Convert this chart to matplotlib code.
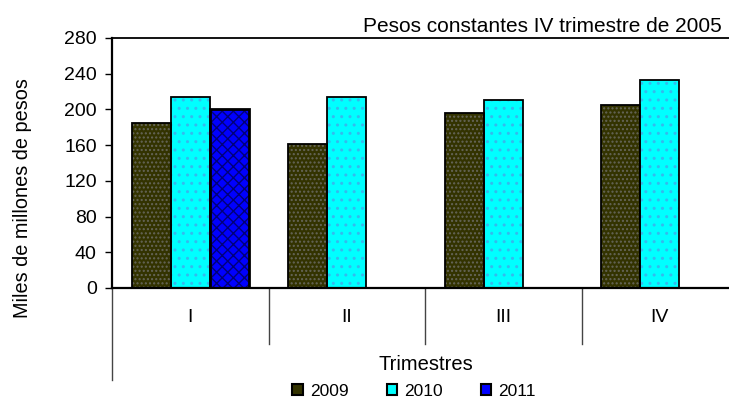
import matplotlib
matplotlib.use("Agg")
import matplotlib.pyplot as plt
from matplotlib.lines import Line2D
from matplotlib.patches import Patch

plt.rcParams['font.family'] = ['Liberation Sans', 'DejaVu Sans']

quarters = ["I", "II", "III", "IV"]
years = ["2009", "2010", "2011"]
values_2009 = [185, 161, 196, 205]
values_2010 = [214, 214, 211, 233]
values_2011 = [201]
series = [values_2009, values_2010, values_2011]

face_colors = ["#333300", "#00ffff", "#0000ff"]
hatch_colors = ["#66665a", "#33bbee", "#00007a"]
hatches = ["....", "..", "xxx"]
yticks = [0, 40, 80, 120, 160, 200, 240, 280]

W, H = 729, 400
fig = plt.figure(figsize=(W / 100, H / 100), dpi=100)
ax_left, ax_right, ax_top, ax_bottom = 112, 738, 38, 288
ax = fig.add_axes([ax_left / W, 1 - ax_bottom / H,
                   (ax_right - ax_left) / W, (ax_bottom - ax_top) / H])

bar_w = 0.25
offsets = [-0.25, 0.0, 0.25]
plt.rcParams['hatch.linewidth'] = 1.0
for k, vals in enumerate(series):
    xs = [i + 0.5 + offsets[k] for i in range(len(vals))]
    ax.bar(xs, vals, width=bar_w, color=face_colors[k], hatch=hatches[k],
           edgecolor=hatch_colors[k], linewidth=0, zorder=2)
    ax.bar(xs, vals, width=bar_w, facecolor="none", edgecolor="black",
           linewidth=2.0 if k == 2 else 1.3, zorder=3)

ax.set_xlim(0, 4)
ax.set_ylim(0, 280)
ax.set_yticks(yticks)
ax.set_yticklabels([str(v) for v in yticks], fontsize=14)
ax.tick_params(axis='y', direction='out', length=5, width=1, pad=6)
ax.set_xticks([])
ax.spines['right'].set_visible(False)
for s in ['left', 'bottom']:
    ax.spines[s].set_linewidth(1.6)
ax.spines['top'].set_linewidth(1.3)

# category separators below the axis
sep_depth = (344 - 288) / 250
for i in range(1, 4):
    ax.add_line(Line2D([i, i], [0, -sep_depth * 280], color="#444444",
                       linewidth=1, clip_on=False))
outer_depth = (380 - 288) / 250
ax.add_line(Line2D([0, 0], [0, -outer_depth * 280], color="#444444",
                   linewidth=1, clip_on=False))

for i, q in enumerate(quarters):
    ax.text(i + 0.5, -(318 - 288) / 250 * 280, q, ha='center', va='center',
            fontsize=14, clip_on=False)

fig.text(426 / W, 1 - 364 / H, "Trimestres", ha='center', va='center', fontsize=14.5)
fig.text(23 / W, 1 - 198 / H, "Miles de millones de pesos", rotation=90,
         ha='center', va='center', fontsize=14.3)
fig.text(722 / W, 1 - 27 / H, "Pesos constantes IV trimestre de 2005",
         ha='right', va='center', fontsize=15)

handles = [Patch(facecolor=face_colors[k], edgecolor="black", linewidth=1.5)
           for k in range(3)]
fig.legend(handles, years, loc='center', bbox_to_anchor=(414 / W, 1 - 391 / H),
           ncol=3, frameon=False, fontsize=12.5, handlelength=0.6, handleheight=0.6,
           handletextpad=0.4, columnspacing=2.2, borderpad=0)

fig.savefig("out.png", dpi=100)
